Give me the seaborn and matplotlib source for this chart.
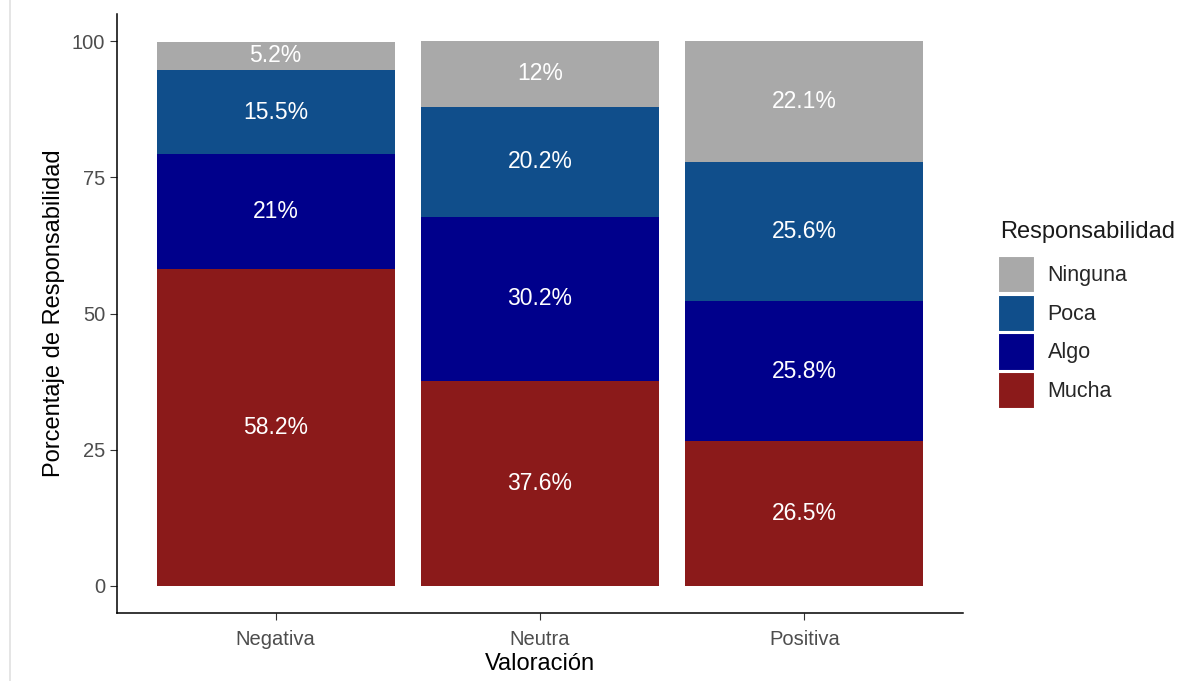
import numpy as np
import pandas as pd
import seaborn as sns
import matplotlib.pyplot as plt
from matplotlib.patches import Patch
from matplotlib.lines import Line2D

######################################
### Data

valoracion = ['Negativa', 'Neutra', 'Positiva']
niveles = ['Mucha', 'Algo', 'Poca', 'Ninguna']   # de abajo hacia arriba

mucha = [58.2, 37.6, 26.5]
algo = [21.0, 30.2, 25.8]
poca = [15.5, 20.2, 25.6]
ninguna = [5.2, 12.0, 22.1]

etiquetas = {
    'Mucha': ['58.2%', '37.6%', '26.5%'],
    'Algo': ['21%', '30.2%', '25.8%'],
    'Poca': ['15.5%', '20.2%', '25.6%'],
    'Ninguna': ['5.2%', '12%', '22.1%'],
}

colores = {'Ninguna': '#A9A9A9', 'Poca': '#104E8B', 'Algo': '#00008B', 'Mucha': '#8B1A1A'}

#####################################
### Tabla

df = pd.DataFrame({'Valoracion': valoracion, 'Mucha': mucha, 'Algo': algo,
                   'Poca': poca, 'Ninguna': ninguna})
long = df.melt(id_vars='Valoracion', var_name='Responsabilidad', value_name='pct')
long['Responsabilidad'] = pd.Categorical(long['Responsabilidad'], niveles, ordered=True)
long = long.sort_values(['Valoracion', 'Responsabilidad'])
long['top'] = long.groupby('Valoracion')['pct'].cumsum()
long['mid'] = long['top'] - long['pct'] / 2

#####################################
### Plot

sns.set_style('white')
plt.rcParams['font.family'] = ['Liberation Sans', 'DejaVu Sans']

fig = plt.figure(figsize=(11.84, 6.81), dpi=100)
ax = fig.add_axes([117 / 1184, 1 - 613 / 681, (963 - 117) / 1184, (613 - 14) / 681])

# capas acumuladas, de la mas alta a la mas baja
for nivel in niveles[::-1]:
    sub = long[long['Responsabilidad'] == nivel]
    sns.barplot(data=sub, x='Valoracion', y='top', order=valoracion, color=colores[nivel],
                width=0.9, saturation=1, linewidth=0, ax=ax, errorbar=None)

for _, r in long.iterrows():
    xi = valoracion.index(r['Valoracion'])
    lab = etiquetas[r['Responsabilidad']][xi]
    ax.text(xi, r['mid'], lab, ha='center', va='center', color='white', fontsize=16.5)

ax.set_xlim(-0.6, 2.6)
ax.set_ylim(-5, 105)
ax.set_yticks([0, 25, 50, 75, 100])
ax.set_xlabel('Valoración', fontsize=17, color='black', labelpad=3)
ax.set_ylabel('Porcentaje de Responsabilidad', fontsize=17, color='black', labelpad=5)
ax.tick_params(axis='both', labelsize=14.5, labelcolor='#4D4D4D', length=5, width=0.8,
               color='#333333', left=True, bottom=True)
ax.tick_params(axis='x', pad=7)
for s in ['top', 'right']:
    ax.spines[s].set_visible(False)
for s in ['left', 'bottom']:
    ax.spines[s].set_color('black')
    ax.spines[s].set_linewidth(1.1)

# leyenda
fig.text(1000 / 1184, 1 - 232 / 681, 'Responsabilidad', fontsize=17, color='#1A1A1A',
         ha='left', va='center')
handles = [Patch(facecolor=colores[n], edgecolor='white', linewidth=1.5) for n in niveles[::-1]]
leg = fig.legend(handles, niveles[::-1], loc='upper left',
                 bbox_to_anchor=(998 / 1184, 1 - 256 / 681), frameon=False,
                 fontsize=15.5, handlelength=1.7, handleheight=2.3,
                 handletextpad=0.6, labelspacing=0.05, borderaxespad=0, borderpad=0)

# borde gris a la izquierda de la captura
fig.add_artist(Line2D([10 / 1184, 10 / 1184], [0, 1], color='#E0E0E0', linewidth=1.2))

fig.savefig('out.png', dpi=100)
